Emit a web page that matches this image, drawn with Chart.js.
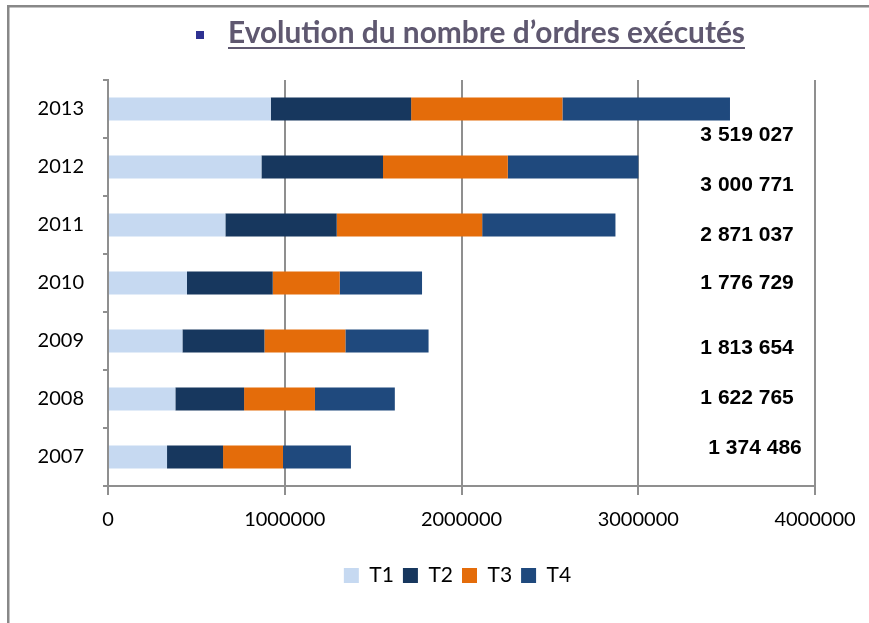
<!DOCTYPE html>
<html>
<head>
<meta charset="utf-8">
<script src="https://cdn.jsdelivr.net/npm/chart.js@4"></script>
<style>
  html, body { margin: 0; padding: 0; background: #fff; }
  #wrap { position: relative; width: 869px; height: 623px; }
</style>
</head>
<body>
<div id="wrap"><canvas id="c" width="869" height="623"></canvas></div>
<script>
// ---- data ----
const years = ['2007', '2008', '2009', '2010', '2011', '2012', '2013'];
const t1 = [334000, 381000, 421000, 447000, 664000, 868000, 921000];
const t2 = [317000, 389000, 464000, 485000, 630000, 688000, 794000];
const t3 = [339000, 401000, 458000, 379000, 823000, 706000, 856000];
const t4 = [384486, 451765, 470654, 465729, 754037, 738771, 948027];
const totals = [1374486, 1622765, 1813654, 1776729, 2871037, 3000771, 3519027];
const seriesNames = ['T1', 'T2', 'T3', 'T4'];
const xTicks = [0, 1000000, 2000000, 3000000, 4000000];
const titleText = 'Evolution du nombre d\u2019ordres exécutés';

const colors = ['#c6d9f1', '#17375e', '#e46c0a', '#1f497d'];
const seriesData = [t1, t2, t3, t4];

function fmtSpace(v) {
  return String(v).replace(/\B(?=(\d{3})+(?!\d))/g, ' ');
}

const frame = {
  id: 'frame',
  afterLayout(chart) {
    // centre the legend on the same span as in the reference
    if (chart.legend) chart.legend.left = 100;
  },
  beforeDraw(chart) {
    const ctx = chart.ctx;
    ctx.save();
    ctx.fillStyle = '#ffffff';
    ctx.fillRect(0, 0, chart.width, chart.height);
    ctx.fillStyle = '#888888';
    ctx.fillRect(7, 5, chart.width - 7, 2.5);
    ctx.fillRect(7, 5, 2.5, chart.height - 5);
    ctx.restore();
  },
  afterDraw(chart) {
    const ctx = chart.ctx;
    ctx.save();
    ctx.fillStyle = '#2e3192';
    ctx.fillRect(196, 31, 8, 8);
    let size = 28;
    ctx.font = 'bold ' + size + 'px Lato';
    const w = ctx.measureText(titleText).width;
    size = size * 517 / w;
    ctx.font = 'bold ' + size + 'px Lato';
    ctx.fillStyle = '#5f5870';
    ctx.textBaseline = 'alphabetic';
    ctx.textAlign = 'left';
    ctx.fillText(titleText, 228, 43);
    const tw = ctx.measureText(titleText).width;
    ctx.fillRect(228, 47, tw, 2);
    ctx.restore();
  }
};

const totalsPlugin = {
  id: 'totals',
  afterDatasetsDraw(chart) {
    const ctx = chart.ctx;
    const xs = chart.scales.x, ys = chart.scales.y;
    const yShift = [-0.147, -0.009, 0.129, 0.009, 0.172, 0.319, 0.448];
    const xRight = [3925000, 3880000, 3880000, 3880000, 3880000, 3880000, 3880000];
    const catH = Math.abs(ys.getPixelForValue(1) - ys.getPixelForValue(0));
    ctx.save();
    ctx.font = 'bold 21px "Liberation Sans"';
    ctx.fillStyle = '#000';
    ctx.textAlign = 'right';
    ctx.textBaseline = 'middle';
    totals.forEach((v, i) => {
      const y = ys.getPixelForValue(i) + yShift[i] * catH;
      const x = xs.getPixelForValue(xRight[i]);
      ctx.fillText(fmtSpace(v), x, y);
    });
    ctx.restore();
  }
};

const BOTTOM_PAD = 27;

new Chart(document.getElementById('c'), {
  type: 'bar',
  data: {
    labels: years,
    datasets: seriesData.map((d, i) => ({
      label: seriesNames[i],
      data: d,
      backgroundColor: colors[i],
      borderWidth: 0,
      barPercentage: 0.4,
      categoryPercentage: 1.0
    }))
  },
  options: {
    indexAxis: 'y',
    responsive: false,
    animation: false,
    layout: { padding: { top: 80, right: 54, bottom: BOTTOM_PAD, left: 0 } },
    plugins: {
      title: { display: false },
      tooltip: { enabled: false },
      legend: {
        display: true,
        position: 'bottom',
        labels: {
          boxWidth: 15,
          boxHeight: 15,
          padding: 9,
          color: '#000',
          font: { family: 'Lato', size: 21 }
        }
      }
    },
    scales: {
      x: {
        stacked: true,
        min: 0,
        max: 4000000,
        afterBuildTicks(s) { s.ticks = xTicks.map(v => ({ value: v })); },
        afterFit(s) {
          const lh = s.chart.legend ? s.chart.legend.height : 40;
          s.height = s.chart.height - 486 - BOTTOM_PAD - lh;
        },
        grid: {
          color: '#8f8f8f',
          lineWidth: 2,
          tickLength: 9,
          drawTicks: true
        },
        border: { color: '#8f8f8f', width: 2 },
        ticks: {
          padding: 13,
          color: '#000',
          font: { family: 'Lato', size: 20 },
          callback: v => String(v)
        }
      },
      y: {
        stacked: true,
        reverse: true,
        afterFit(s) { s.width = 108; },
        grid: {
          drawOnChartArea: false,
          drawTicks: true,
          tickLength: 5,
          color: '#8f8f8f',
          lineWidth: 2,
          offset: true
        },
        border: { color: '#8f8f8f', width: 2 },
        ticks: {
          padding: 19,
          color: '#000',
          font: { family: 'Lato', size: 20 }
        }
      }
    }
  },
  plugins: [frame, totalsPlugin]
});
</script>
</body>
</html>
